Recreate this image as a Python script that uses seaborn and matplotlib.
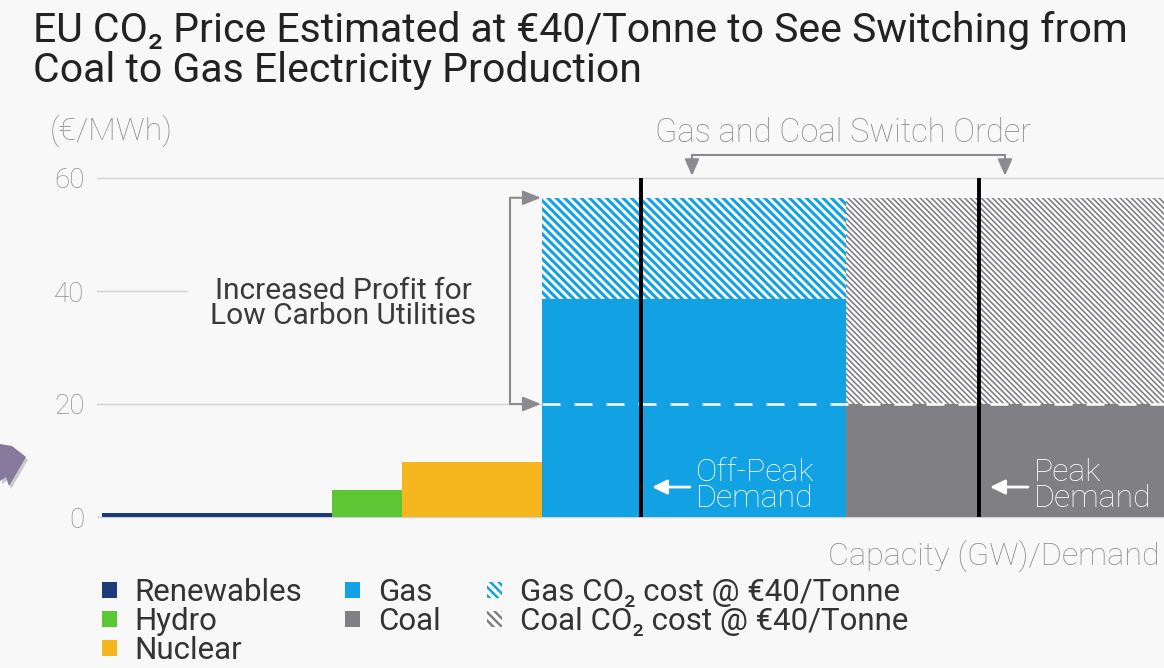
import matplotlib
matplotlib.use("Agg")
import numpy as np
import matplotlib.pyplot as plt
from matplotlib.patches import Patch, Polygon, Rectangle
import seaborn as sns

# Merit-order supply stack: capacity blocks (GW) and marginal cost (EUR/MWh)
sources = ["Renewables", "Hydro", "Nuclear", "Gas", "Coal"]
capacity_gw = [23.0, 7.0, 14.0, 30.4, 31.8]
fuel_cost = [0.7, 4.7, 9.7, 38.5, 20.0]
# extra cost from CO2 at EUR 40/tonne (gas and coal only)
co2_sources = ["Gas", "Coal"]
co2_cost = [18.0, 36.5]
demand_labels = ["Off-Peak\nDemand", "Peak\nDemand"]
demand_gw = [53.9, 87.7]
price_ticks = [0, 20, 40, 60]
legend_labels = ["Renewables", "Hydro", "Nuclear", "Gas", "Coal",
                 "Gas CO\u2082 cost @ \u20ac40/Tonne",
                 "Coal CO\u2082 cost @ \u20ac40/Tonne"]

BG = "#f8f8f8"
GREY_TXT = "#8f8f8f"
DARK_TXT = "#333333"
colors = {"Renewables": "#1d3a7a", "Hydro": "#5cc634", "Nuclear": "#f6b71e",
          "Gas": "#12a2e3", "Coal": "#807f83"}

sns.set_theme(style="whitegrid", rc={
    "figure.facecolor": BG, "axes.facecolor": BG, "savefig.facecolor": BG,
    "grid.color": "#d2d2d2", "grid.linewidth": 1.0,
})
plt.rcParams["font.family"] = ["Roboto", "DejaVu Sans"]
plt.rcParams["hatch.linewidth"] = 1.8

W, H = 1164, 668
fig = plt.figure(figsize=(W / 100, H / 100), dpi=100)
ax = fig.add_axes([97 / W, (H - 528.3) / H, (W - 97) / W, (528.3 - 166.7) / H])
ax.set_xlim(-0.5, 106.2)
ax.set_ylim(-2, 62)

lefts = np.concatenate([[0.0], np.cumsum(capacity_gw)[:-1]])
pos = dict(zip(sources, lefts))
wid = dict(zip(sources, capacity_gw))
base = dict(zip(sources, fuel_cost))

# fuel-cost blocks
ax.bar(lefts, fuel_cost, width=capacity_gw, align="edge",
       color=[colors[s] for s in sources], linewidth=0, zorder=2)

# CO2 cost blocks stacked on gas and coal
hatches = {"Gas": "\\" * 4, "Coal": "\\" * 6}
hatch_lw = {"Gas": 2.2, "Coal": 1.2}
for s, c in zip(co2_sources, co2_cost):
    bars = ax.bar(pos[s], c, width=wid[s], bottom=base[s], align="edge",
                  facecolor="white", edgecolor=colors[s], hatch=hatches[s],
                  linewidth=0, zorder=2)
    for p in bars:
        if hasattr(p, "set_hatch_linewidth"):
            p.set_hatch_linewidth(hatch_lw[s])

# pre-carbon price level
gas_left = pos["Gas"]
ax.hlines(20, gas_left, 106.2, colors="white", linestyles=(0, (7.2, 5.6)),
          linewidth=1.8, zorder=3)

# demand levels
ax.vlines(demand_gw, 0, 60, colors="black", linewidth=2.8, zorder=4)
for x, lab in zip(demand_gw, demand_labels):
    ax.annotate("", xy=(x + 1.1, 5.3), xytext=(x + 4.9, 5.3),
                arrowprops=dict(arrowstyle="-|>,head_length=0.45,head_width=0.22",
                                color="white", lw=2, shrinkA=0, shrinkB=0,
                                mutation_scale=20), zorder=5)
    ax.text(x + 5.5, 5.6, lab, color="white", ha="left", va="center",
            fontsize=23, fontweight="light", linespacing=0.85, zorder=5)

# axes styling
ax.grid(axis="x", visible=False)
ax.set_yticks(price_ticks)
ax.set_xticks([])
ax.tick_params(axis="y", length=0, pad=9, labelsize=20, labelcolor=GREY_TXT)
for lab in ax.get_yticklabels():
    lab.set_fontweight("light")
sns.despine(ax=ax, left=True, bottom=True)

# gap in the 40 gridline for the annotation
ax.add_patch(Rectangle((8.6, 39.2), 35.4, 1.6, facecolor=BG, linewidth=0, zorder=1))
ax.text(24.1, 37.8, "Increased Profit for\nLow Carbon Utilities", ha="center",
        va="center", fontsize=21.5, color="#3a3a3a", fontweight="normal",
        linespacing=0.88, zorder=3)

# bracket: increase in clearing price
BR = "#8c8a8f"
gas_top = base["Gas"] + co2_cost[0]
ax.plot([40.8, 40.8], [20, gas_top], color=BR, lw=1.5, zorder=3)
for yv in (20, gas_top):
    ax.annotate("", xy=(gas_left - 0.1, yv), xytext=(40.8, yv),
                arrowprops=dict(arrowstyle="-|>,head_length=0.55,head_width=0.22",
                                color=BR, lw=1.5, shrinkA=0, shrinkB=0,
                                mutation_scale=20), zorder=3)

# bracket: switch order
ax.plot([59.0, 90.3], [64.1, 64.1], color=BR, lw=1.5, clip_on=False, zorder=3)
for xv in (59.0, 90.3):
    ax.annotate("", xy=(xv, 60.4), xytext=(xv, 64.1),
                arrowprops=dict(arrowstyle="-|>,head_length=0.5,head_width=0.22",
                                color=BR, lw=1.5, shrinkA=0, shrinkB=0,
                                mutation_scale=20), annotation_clip=False, zorder=3)
ax.text(74.15, 68.0, "Gas and Coal Switch Order", ha="center", va="center",
        fontsize=23.5, color=GREY_TXT, fontweight="light", clip_on=False)

# titles and axis captions
fig.text(33 / W, 1 - 11 / H,
         "EU CO\u2082 Price Estimated at \u20ac40/Tonne to See Switching from\n"
         "Coal to Gas Electricity Production",
         ha="left", va="top", fontsize=29.5, color="#222222", linespacing=1.03)
fig.text(50 / W, 1 - 131 / H, "(\u20ac/MWh)", ha="left", va="center",
         fontsize=23, color=GREY_TXT, fontweight="light")
fig.text(1160 / W, 1 - 556 / H, "Capacity (GW)/Demand", ha="right", va="center",
         fontsize=23.3, color=GREY_TXT, fontweight="light")

# legend, three columns
handles = [Patch(facecolor=colors[s], linewidth=0) for s in sources]
for s in co2_sources:
    handles.append(Patch(facecolor="white", edgecolor=colors[s],
                         hatch="\\" * 4, linewidth=0))
columns = [[0, 1, 2], [3, 4], [5, 6]]
col_x = [102, 345, 487]
for idx, cx in zip(columns, col_x):
    fig.legend([handles[i] for i in idx], [legend_labels[i] for i in idx],
               loc="upper left", bbox_to_anchor=(cx / W, 1 - 578 / H),
               frameon=False, fontsize=22.5, handlelength=0.47, handleheight=0.42,
               handletextpad=0.58, borderpad=0, borderaxespad=0, labelspacing=0.0,
               labelcolor=DARK_TXT)

# slide pointer at the left edge
pts = [(0, 444), (12, 446), (26, 457), (9, 486), (6, 477), (0, 481)]
shadow = Polygon([((x + 2) / W, 1 - (y + 3) / H) for x, y in pts],
                 closed=True, transform=fig.transFigure, facecolor="#b5b5b5",
                 edgecolor="none", alpha=0.7)
arrow = Polygon([(x / W, 1 - y / H) for x, y in pts], closed=True,
                transform=fig.transFigure, facecolor="#86799c", edgecolor="none")
fig.add_artist(shadow)
fig.add_artist(arrow)

fig.savefig("out.png", dpi=100)
